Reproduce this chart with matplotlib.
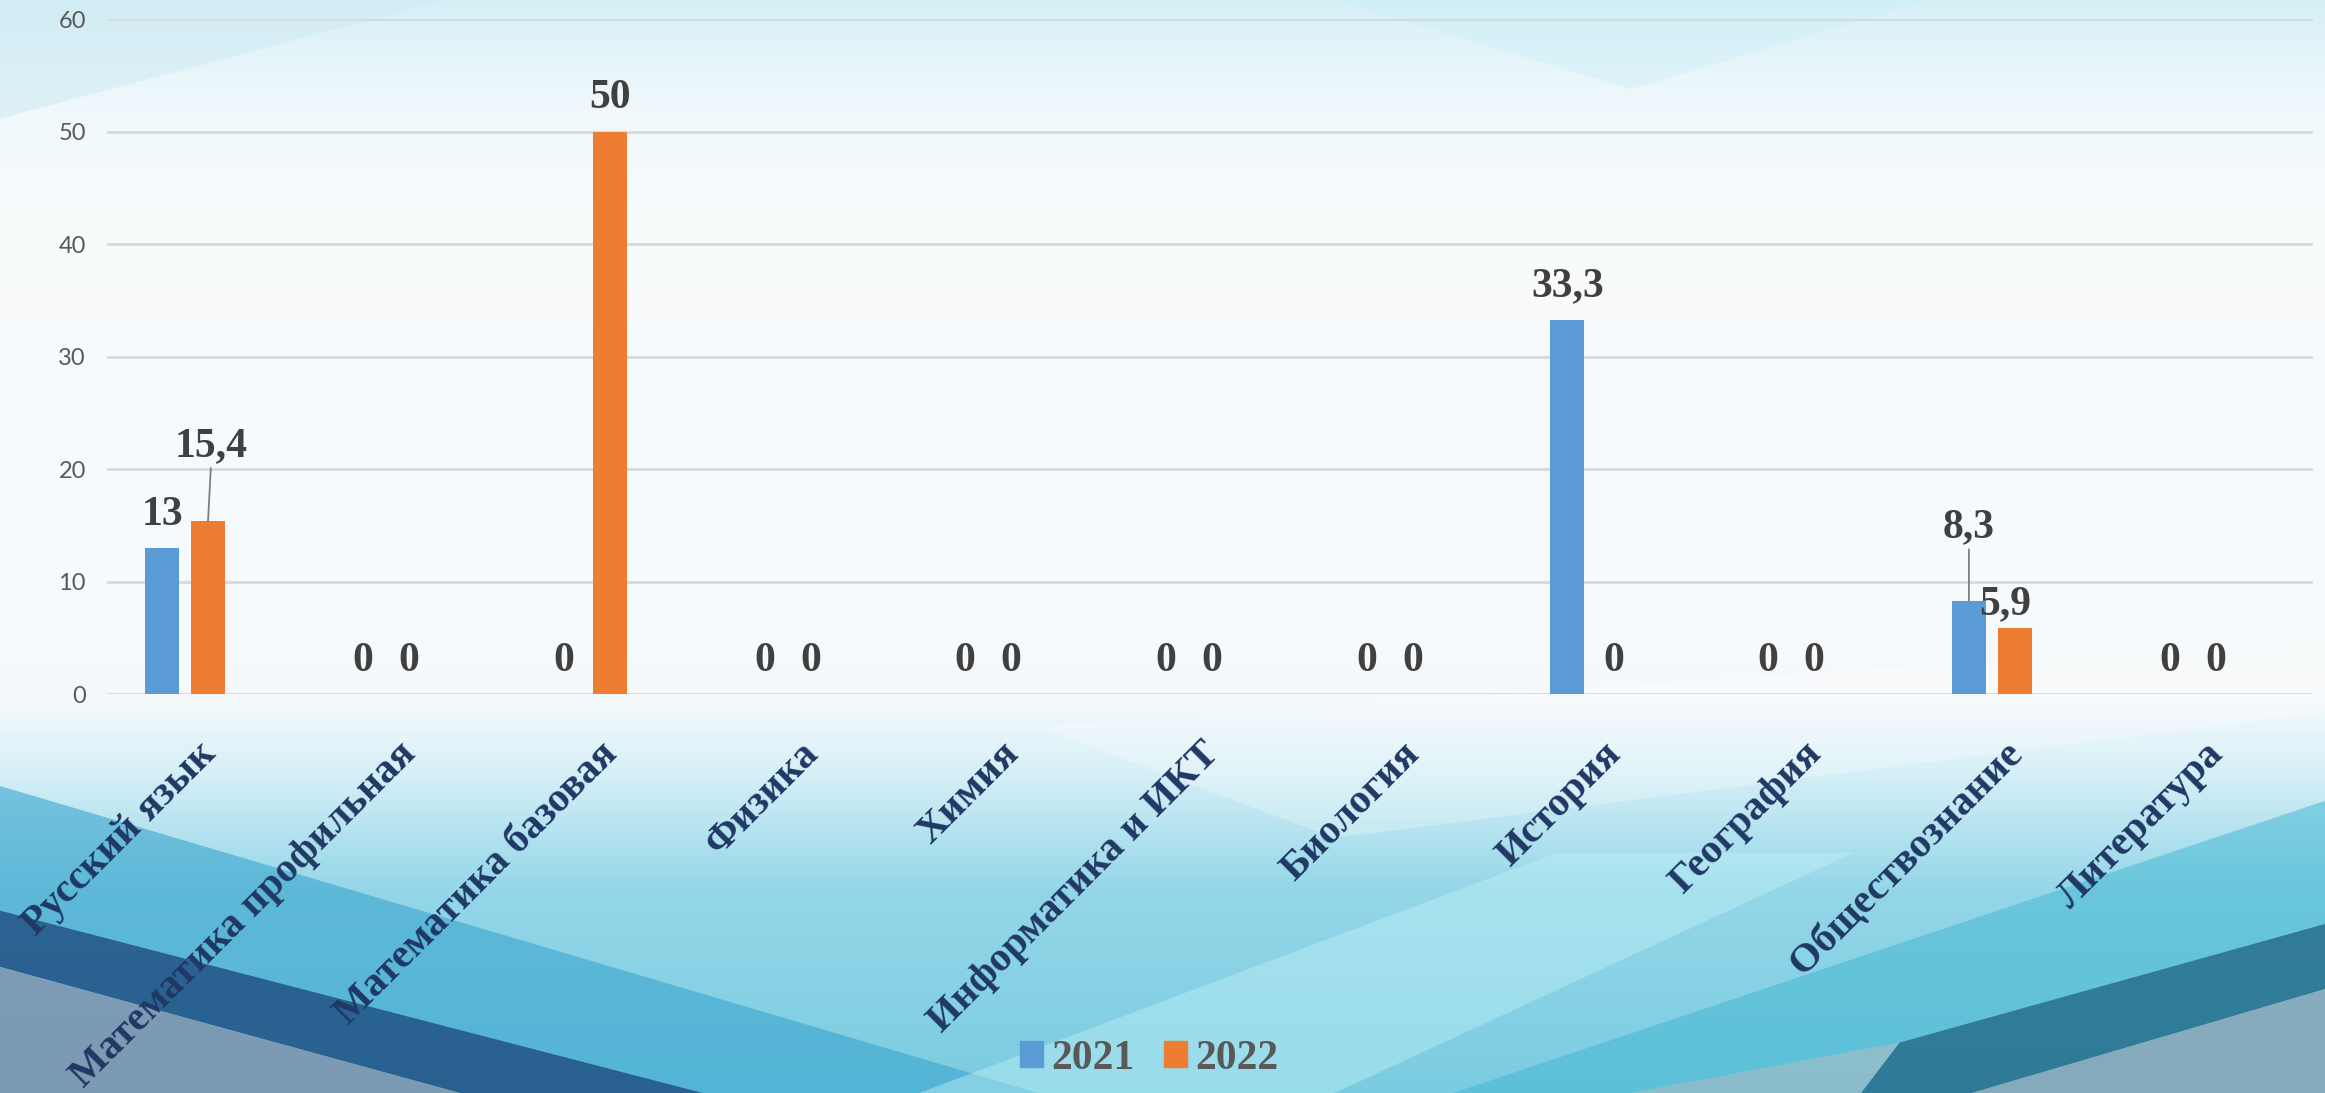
import numpy as np
import matplotlib
matplotlib.use("Agg")
import matplotlib.pyplot as plt
from matplotlib.patches import Patch

# данные
subjects = [
    "Русский язык", "Математика профильная", "Математика базовая", "Физика",
    "Химия", "Информатика и ИКТ", "Биология", "История", "География",
    "Обществознание", "Литература",
]
vals_2021 = [13, 0, 0, 0, 0, 0, 0, 33.3, 0, 8.3, 0]
vals_2022 = [15.4, 0, 50, 0, 0, 0, 0, 0, 0, 5.9, 0]
show_2022_zero = [True, True, False, True, True, True, True, True, True, True, True]
series_names = ["2021", "2022"]
y_ticks = [0, 10, 20, 30, 40, 50, 60]

C_BLUE = "#5B9BD5"
C_ORANGE = "#ED7D31"
C_LABEL = "#404040"
C_CAT = "#1F3864"

# смещения подписей (pt); в оригинале часть подписей передвинута вручную
DEFAULT_SHIFT = (0, 24)
label_shift_2021 = {9: (0, 53)}
label_shift_2022 = {0: (2, 54), 9: (-7, 17)}

W, H = 1568, 737  # экранные единицы фона

fig = plt.figure(figsize=(23.25, 10.93), dpi=100)

# фон
bg = fig.add_axes([0, 0, 1, 1], zorder=-10)
bg.set_xlim(0, W); bg.set_ylim(H, 0); bg.axis("off")
stops_y = np.array([0, 60, 140, 470, 520, 600, 737], float)
stops_c = np.array([
    [0.84, 0.94, 0.97],
    [0.93, 0.97, 0.985],
    [0.975, 0.985, 0.99],
    [0.965, 0.98, 0.99],
    [0.84, 0.94, 0.97],
    [0.58, 0.84, 0.91],
    [0.48, 0.80, 0.88],
])
yy = np.arange(H)
grad = np.stack([np.interp(yy, stops_y, stops_c[:, k]) for k in range(3)], axis=1)
img = np.repeat(grad[:, None, :], 4, axis=1)
bg.imshow(img, extent=(0, W, H, 0), aspect="auto", interpolation="bilinear")


def poly(pts, color, alpha):
    xs, ys = zip(*pts)
    bg.fill(xs, ys, color=color, alpha=alpha, lw=0)


poly([(0, 530), (0, 614), (474, 737), (700, 737)], "#3AA5CE", 0.6)
poly([(0, 614), (0, 652), (310, 737), (474, 737)], "#1D5285", 0.88)
poly([(0, 652), (0, 737), (310, 737)], "#7D98B2", 0.95)
poly([(620, 737), (1050, 575), (1250, 575), (900, 737)], "#BFF0F7", 0.45)
poly([(1568, 540), (1568, 623), (1281, 703), (1100, 737), (980, 737)], "#3FB6D2", 0.5)
poly([(1568, 623), (1568, 667), (1330, 737), (1255, 737), (1281, 703)], "#27728F", 0.9)
poly([(1568, 667), (1568, 737), (1330, 737)], "#86A9BA", 0.95)
poly([(1100, 737), (1281, 703), (1255, 737)], "#8FB9C6", 0.8)
poly([(700, 490), (1568, 430), (1568, 480), (900, 565)], "#FFFFFF", 0.25)
poly([(0, 0), (300, 0), (0, 80)], "#CDEAF3", 0.5)
poly([(900, 0), (1300, 0), (1100, 60)], "#CDEFF7", 0.45)

# основной график
ax = fig.add_axes([72 / W, 1 - 468 / H, (1560 - 72) / W, (468 - 13) / H])
ax.set_facecolor("none")
x = np.arange(len(subjects))
bw = 0.17
off = 0.1145
ax.bar(x - off, vals_2021, bw, color=C_BLUE, zorder=3)
ax.bar(x + off, vals_2022, bw, color=C_ORANGE, zorder=3)

ax.set_xlim(-0.39, 10.6)
ax.set_ylim(0, 60)
ax.set_yticks(y_ticks)
ax.yaxis.grid(True, color="#D9D9D9", lw=2.0, zorder=0)
ax.set_axisbelow(True)
for s in ax.spines.values():
    s.set_visible(False)
ax.tick_params(axis="y", length=0, pad=15, labelsize=17, labelcolor="#595959")
for t in ax.get_yticklabels():
    t.set_fontfamily("Lato")
ax.set_xticks([])


def fmt(v):
    return f"{v:g}".replace(".", ",")


def put_label(xi, v, shift):
    dx, dy = shift
    ax.annotate(fmt(v), xy=(xi, v), xytext=(dx, dy), textcoords="offset points",
                ha="center", va="center", zorder=5, family="Liberation Serif",
                weight="bold", size=30, color=C_LABEL)
    if dy > 30:  # выноска к сдвинутой подписи
        ax.annotate("", xy=(xi, v), xytext=(dx, dy - 16), textcoords="offset points",
                    arrowprops=dict(arrowstyle="-", color="#7F7F7F", lw=1.3,
                                    shrinkA=0, shrinkB=0), zorder=4)


for i, v in enumerate(vals_2021):
    put_label(x[i] - off, v, label_shift_2021.get(i, DEFAULT_SHIFT))
for i, v in enumerate(vals_2022):
    if v == 0 and not show_2022_zero[i]:
        continue
    put_label(x[i] + off, v, label_shift_2022.get(i, DEFAULT_SHIFT))

# подписи категорий
for i, name in enumerate(subjects):
    ax.annotate(name, xy=(x[i], 0), xycoords=("data", "axes fraction"),
                xytext=(18, -39), textcoords="offset points",
                rotation=45, rotation_mode="anchor", ha="right", va="center",
                family="Liberation Serif", weight="bold",
                size=29.5, color=C_CAT, annotation_clip=False)

# легенда
handles = [Patch(color=C_BLUE), Patch(color=C_ORANGE)]
leg = fig.legend(handles, series_names, loc="center",
                 bbox_to_anchor=(775 / W, 1 - 714 / H), ncol=2, frameon=False,
                 prop=dict(family="Liberation Serif", weight="bold", size=30),
                 handlelength=0.55, handleheight=0.6, handletextpad=0.2,
                 columnspacing=0.7)
for t in leg.get_texts():
    t.set_color("#595959")

fig.savefig("out.png", dpi=100)
